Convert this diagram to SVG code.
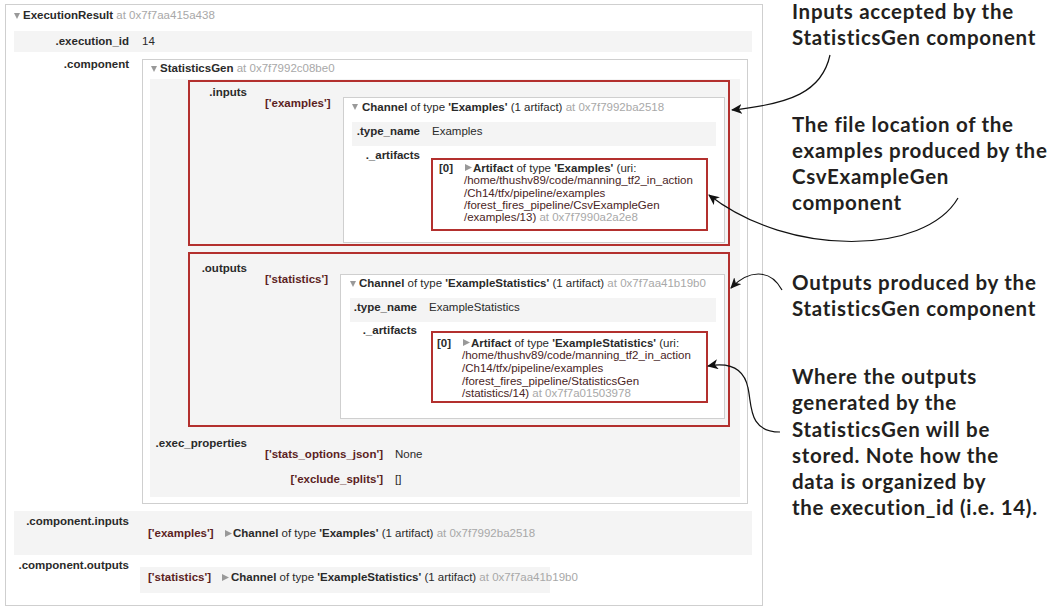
<svg xmlns="http://www.w3.org/2000/svg" width="1050" height="611" viewBox="0 0 1050 611">
<style>
text{font-family:"Liberation Sans",Arial,sans-serif;font-size:11.5px;fill:#2a2a2a}
.b{font-weight:bold}
.g{fill:#a8a8a8}
.k{font-weight:bold;fill:#5c1f1f}
.u{fill:#4a2424}
.box{fill:#fff;stroke:#cfcfcf;stroke-width:1}
.sh{fill:#f4f4f4}
.red{fill:none;stroke:#b3302e;stroke-width:2}
.tri{fill:#999}
.ann{font-family:Lato,"Open Sans",sans-serif;font-weight:bold;font-size:20.5px;letter-spacing:0.7px;fill:#231f20}
.arr{fill:none;stroke:#111;stroke-width:1.2;marker-end:url(#ah)}
</style>
<defs>
<marker id="ah" markerWidth="12" markerHeight="10" refX="10" refY="5" orient="auto" markerUnits="userSpaceOnUse">
<path d="M0,0 L11,5 L0,10 L3,5 Z" fill="#111"/>
</marker>
</defs>
<rect width="1050" height="611" fill="#fff"/>

<g id="execution-result">
<rect class="box" x="5.5" y="4.5" width="757" height="601"/>
<polygon class="tri" points="14,13 20,13 17,19"/>
<text x="23" y="19"><tspan class="b">ExecutionResult</tspan><tspan class="g"> at 0x7f7aa415a438</tspan></text>
<rect class="sh" x="14" y="31" width="738" height="21"/>
<text class="b" x="129" y="45" text-anchor="end">.execution_id</text>
<text x="142" y="45">14</text>
<text class="b" x="129" y="68" text-anchor="end">.component</text>
</g>

<g id="statistics-gen">
<rect class="box" x="142.5" y="59.5" width="605" height="444"/>
<polygon class="tri" points="151,66 157,66 154,72"/>
<text x="160" y="72"><tspan class="b">StatisticsGen</tspan><tspan class="g"> at 0x7f7992c08be0</tspan></text>
<rect class="sh" x="150" y="79" width="590" height="418"/>
</g>

<g id="inputs">
<rect class="red" x="189" y="81" width="540" height="164" fill="#f6f6f6"/>
<text class="b" x="247" y="96" text-anchor="end">.inputs</text>
<text class="k" x="265" y="107">['examples']</text>
</g>

<g id="inputs-channel">
<rect class="box" x="343.5" y="97.5" width="381" height="145"/>
<polygon class="tri" points="352,104 358,104 355,110"/>
<text x="362" y="111"><tspan class="b">Channel</tspan> of type <tspan class="b">'Examples'</tspan> (1 artifact)<tspan class="g"> at 0x7f7992ba2518</tspan></text>
<rect class="sh" x="352" y="122" width="364" height="24"/>
<text class="b" x="420" y="135" text-anchor="end">.type_name</text>
<text x="432" y="135">Examples</text>
<text class="b" x="420" y="159" text-anchor="end">._artifacts</text>
</g>

<g id="inputs-artifact">
<rect class="red" x="432" y="159" width="275" height="71" fill="#fff"/>
<text class="b" x="439" y="172">[0]</text>
<polygon class="tri" points="465,164 472,167.5 465,171"/>
<text x="473" y="172"><tspan class="b">Artifact</tspan> of type <tspan class="b">'Examples'</tspan> (uri:</text>
<text class="u" x="464" y="184">/home/thushv89/code/manning_tf2_in_action</text>
<text class="u" x="464" y="197">/Ch14/tfx/pipeline/examples</text>
<text class="u" x="464" y="209">/forest_fires_pipeline/CsvExampleGen</text>
<text x="464" y="221"><tspan class="u">/examples/13)</tspan><tspan class="g"> at 0x7f7990a2a2e8</tspan></text>
</g>

<g id="outputs">
<rect class="red" x="189" y="253" width="540" height="173" fill="#f6f6f6"/>
<text class="b" x="247" y="272" text-anchor="end">.outputs</text>
<text class="k" x="265" y="283">['statistics']</text>
</g>

<g id="outputs-channel">
<rect class="box" x="340.5" y="274.5" width="384" height="144"/>
<polygon class="tri" points="350,281 356,281 353,287"/>
<text x="359" y="287"><tspan class="b">Channel</tspan> of type <tspan class="b">'ExampleStatistics'</tspan> (1 artifact)<tspan class="g"> at 0x7f7aa41b19b0</tspan></text>
<rect class="sh" x="350" y="298" width="366" height="24"/>
<text class="b" x="417" y="311" text-anchor="end">.type_name</text>
<text x="429" y="311">ExampleStatistics</text>
<text class="b" x="417" y="334" text-anchor="end">._artifacts</text>
</g>

<g id="outputs-artifact">
<rect class="red" x="432" y="332" width="275" height="70" fill="#fff"/>
<text class="b" x="437" y="347">[0]</text>
<polygon class="tri" points="463,339 470,342.5 463,346"/>
<text x="471" y="347"><tspan class="b">Artifact</tspan> of type <tspan class="b">'ExampleStatistics'</tspan> (uri:</text>
<text class="u" x="462" y="359">/home/thushv89/code/manning_tf2_in_action</text>
<text class="u" x="462" y="372">/Ch14/tfx/pipeline/examples</text>
<text class="u" x="462" y="385">/forest_fires_pipeline/StatisticsGen</text>
<text x="462" y="397"><tspan class="u">/statistics/14)</tspan><tspan class="g"> at 0x7f7a01503978</tspan></text>
</g>

<g id="exec-properties">
<text class="b" x="247" y="447" text-anchor="end">.exec_properties</text>
<text class="k" x="383" y="458" text-anchor="end">['stats_options_json']</text>
<text x="395" y="458">None</text>
<text class="k" x="383" y="483" text-anchor="end">['exclude_splits']</text>
<text x="395" y="483">[]</text>
</g>

<g id="component-inputs">
<rect class="sh" x="14" y="511" width="738" height="44"/>
<text class="b" x="129" y="525" text-anchor="end">.component.inputs</text>
<text class="k" x="148" y="537">['examples']</text>
<polygon class="tri" points="225,530 232,533.5 225,537"/>
<text x="233" y="537"><tspan class="b">Channel</tspan> of type <tspan class="b">'Examples'</tspan> (1 artifact)<tspan class="g"> at 0x7f7992ba2518</tspan></text>
</g>

<g id="component-outputs">
<rect class="sh" x="140" y="567" width="410" height="26"/>
<text class="b" x="129" y="569" text-anchor="end">.component.outputs</text>
<text class="k" x="148" y="581">['statistics']</text>
<polygon class="tri" points="222,574 229,577.5 222,581"/>
<text x="231" y="581"><tspan class="b">Channel</tspan> of type <tspan class="b">'ExampleStatistics'</tspan> (1 artifact)<tspan class="g"> at 0x7f7aa41b19b0</tspan></text>
</g>

<g id="annotation-inputs">
<text class="ann" x="792" y="19">Inputs accepted by the</text>
<text class="ann" x="792" y="45">StatisticsGen component</text>
</g>
<g id="annotation-examples">
<text class="ann" x="792" y="132">The file location of the</text>
<text class="ann" x="792" y="158">examples produced by the</text>
<text class="ann" x="792" y="184">CsvExampleGen</text>
<text class="ann" x="792" y="210">component</text>
</g>
<g id="annotation-outputs">
<text class="ann" x="792" y="290">Outputs produced by the</text>
<text class="ann" x="792" y="316">StatisticsGen component</text>
</g>
<g id="annotation-where">
<text class="ann" x="792" y="384">Where the outputs</text>
<text class="ann" x="792" y="410">generated by the</text>
<text class="ann" x="792" y="437">StatisticsGen will be</text>
<text class="ann" x="792" y="463">stored. Note how the</text>
<text class="ann" x="792" y="489">data is organized by</text>
<text class="ann" x="792" y="515">the execution_id (i.e. 14).</text>
</g>

<g id="connectors">
<path class="arr" d="M830,55 C822,92 790,104 732,110"/>
<path class="arr" d="M958,198 C925,255 790,258 709,195"/>
<path class="arr" d="M782,290 C770,268 748,270 731,288"/>
<path class="arr" d="M780,432 C748,432 752,405 748,388 C744,368 730,362 708,366"/>
</g>
</svg>
